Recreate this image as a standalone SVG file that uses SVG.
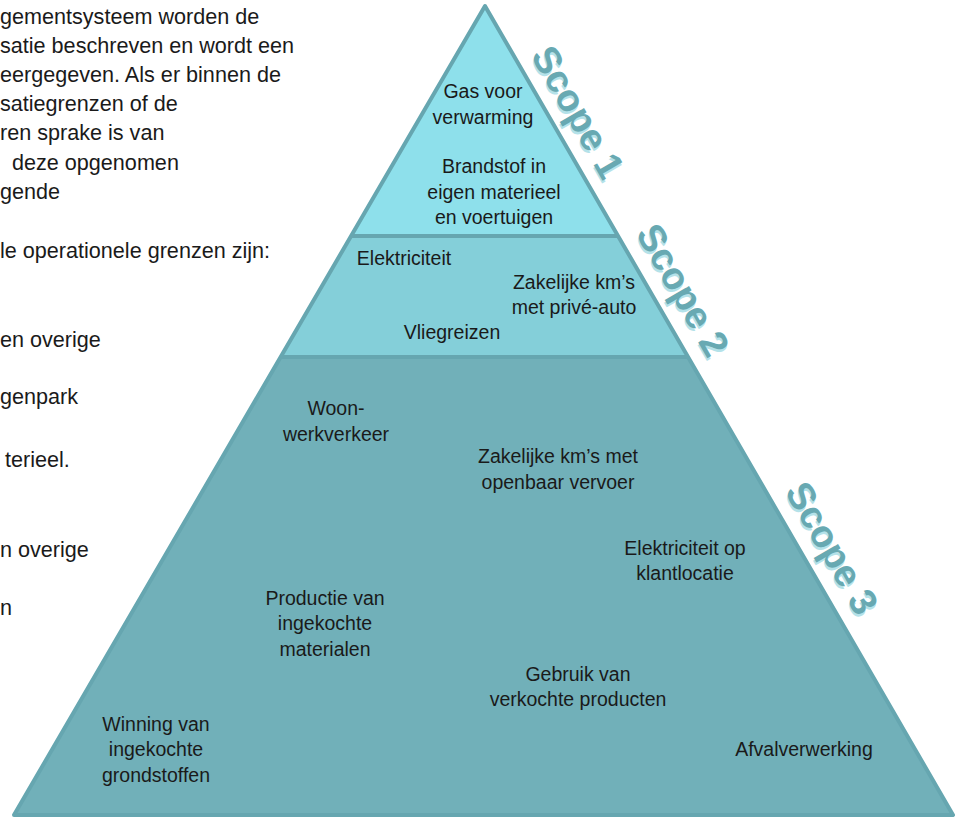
<svg xmlns="http://www.w3.org/2000/svg" width="959" height="818" viewBox="0 0 959 818">
<style>
.body{font-family:"Liberation Sans",Arial,sans-serif;font-size:21.6px;fill:#1a1a1a}
.lbl{font-family:"Liberation Sans",Arial,sans-serif;font-size:19.5px;fill:#1a1a1a;text-anchor:middle}
.scope{font-family:"Liberation Sans",Arial,sans-serif;font-size:38px;font-weight:bold;text-anchor:middle;dominant-baseline:central}
.sh{fill:#b4e2e9}
.sf{fill:#68a9b2}
.edge{stroke:#66a6b0;stroke-width:4;fill:none;stroke-linejoin:round}
</style>
<rect width="959" height="818" fill="#ffffff"/>
<g id="bodytext">
<text class="body" x="0" y="24">gementsysteem worden de</text>
<text class="body" x="0" y="53">satie beschreven en wordt een</text>
<text class="body" x="0" y="82">eergegeven. Als er binnen de</text>
<text class="body" x="0" y="111">satiegrenzen of de</text>
<text class="body" x="0" y="140">ren sprake is van</text>
<text class="body" x="12" y="170">deze opgenomen</text>
<text class="body" x="0" y="199">gende</text>
<text class="body" x="0" y="258">le operationele grenzen zijn:</text>
<text class="body" x="0" y="347">en overige</text>
<text class="body" x="0" y="404">genpark</text>
<text class="body" x="5" y="467">terieel.</text>
<text class="body" x="0" y="557">n overige</text>
<text class="body" x="0" y="615">n</text>
</g>
<g id="scope3">
<polygon points="280,357 689,357 953,815 14,815" fill="#71b0b9"/>
</g>
<g id="scope2">
<polygon points="351,236 618,236 689,357 280,357" fill="#84cfd9"/>
</g>
<g id="scope1">
<polygon points="485,6 351,236 618,236" fill="#8ee0eb"/>
</g>
<g id="connectors">
<polygon class="edge" points="485,6 953,815 14,815"/>
<line class="edge" x1="351" y1="236" x2="618" y2="236"/>
<line class="edge" x1="280" y1="357" x2="689" y2="357"/>
</g>
<g id="labels1">
<text class="lbl" x="483" y="98">Gas voor</text>
<text class="lbl" x="483" y="124">verwarming</text>
<text class="lbl" x="494" y="173">Brandstof in</text>
<text class="lbl" x="494" y="199">eigen materieel</text>
<text class="lbl" x="494" y="224">en voertuigen</text>
</g>
<g id="labels2">
<text class="lbl" x="404" y="265">Elektriciteit</text>
<text class="lbl" x="574" y="289">Zakelijke km’s</text>
<text class="lbl" x="574" y="314">met privé-auto</text>
<text class="lbl" x="452" y="339">Vliegreizen</text>
</g>
<g id="labels3">
<text class="lbl" x="336" y="415">Woon-</text>
<text class="lbl" x="336" y="441">werkverkeer</text>
<text class="lbl" x="558" y="463">Zakelijke km’s met</text>
<text class="lbl" x="558" y="489">openbaar vervoer</text>
<text class="lbl" x="685" y="555">Elektriciteit op</text>
<text class="lbl" x="685" y="580">klantlocatie</text>
<text class="lbl" x="325" y="605">Productie van</text>
<text class="lbl" x="325" y="630">ingekochte</text>
<text class="lbl" x="325" y="656">materialen</text>
<text class="lbl" x="578" y="681">Gebruik van</text>
<text class="lbl" x="578" y="706">verkochte producten</text>
<text class="lbl" x="156" y="731">Winning van</text>
<text class="lbl" x="156" y="756">ingekochte</text>
<text class="lbl" x="156" y="782">grondstoffen</text>
<text class="lbl" x="804" y="756">Afvalverwerking</text>
</g>
<g id="scope-labels">
<g transform="translate(578,112) rotate(60)">
<text class="scope sh" x="2" y="2">Scope 1</text>
<text class="scope sf" x="0" y="0">Scope 1</text>
</g>
<g transform="translate(683,290) rotate(60)">
<text class="scope sh" x="2" y="2">Scope 2</text>
<text class="scope sf" x="0" y="0">Scope 2</text>
</g>
<g transform="translate(832,548) rotate(60)">
<text class="scope sh" x="2" y="2">Scope 3</text>
<text class="scope sf" x="0" y="0">Scope 3</text>
</g>
</g>
</svg>
